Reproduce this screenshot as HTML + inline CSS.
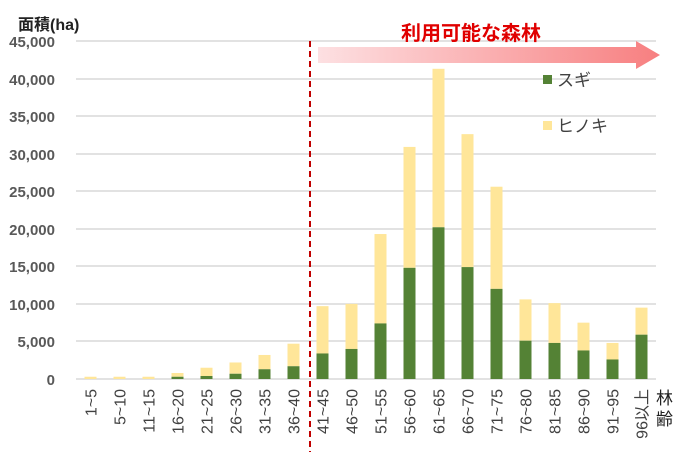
<!DOCTYPE html>
<html><head><meta charset="utf-8"><style>
body{margin:0;background:#fff;}
svg{display:block;font-family:"Liberation Sans","Noto Sans CJK JP",sans-serif;}
</style></head><body>
<svg width="690" height="452" viewBox="0 0 690 452" xmlns="http://www.w3.org/2000/svg">
<defs>
<linearGradient id="g" x1="0" x2="1" y1="0" y2="0">
<stop offset="0" stop-color="#fde0e2"/><stop offset="1" stop-color="#f77f80"/>
</linearGradient>
</defs>
<g stroke="#d9d9d9" stroke-width="1.5">
<line x1="76" x2="656" y1="41" y2="41"/><line x1="76" x2="656" y1="79" y2="79"/>
<line x1="76" x2="656" y1="116" y2="116"/><line x1="76" x2="656" y1="154" y2="154"/>
<line x1="76" x2="656" y1="191" y2="191"/><line x1="76" x2="656" y1="229" y2="229"/>
<line x1="76" x2="656" y1="266" y2="266"/><line x1="76" x2="656" y1="304" y2="304"/>
<line x1="76" x2="656" y1="341" y2="341"/><line x1="76" x2="656" y1="379" y2="379"/>
</g>
<g font-size="15" font-weight="bold" fill="#595959" text-anchor="end">
<text x="55" y="47">45,000</text><text x="55" y="85">40,000</text><text x="55" y="122">35,000</text>
<text x="55" y="160">30,000</text><text x="55" y="197">25,000</text><text x="55" y="235">20,000</text>
<text x="55" y="272">15,000</text><text x="55" y="310">10,000</text><text x="55" y="347">5,000</text>
<text x="55" y="385">0</text>
</g>
<text x="18" y="30" font-size="16" font-weight="bold" fill="#222">面積(ha)</text>
<g id="bars"></g>
<line x1="310" x2="310" y1="41" y2="452" stroke="#c00000" stroke-width="2" stroke-dasharray="6,4"/>
<polygon points="318,47 636,47 636,41 660,55 636,69 636,63 318,63" fill="url(#g)"/>
<text x="401" y="40" font-size="20" font-weight="bold" fill="#e00000">利用可能な森林</text>
<rect x="543" y="75" width="9" height="9" fill="#548235"/>
<text x="557" y="86" font-size="17" fill="#404040">スギ</text>
<rect x="543" y="121" width="9" height="9" fill="#ffe699"/>
<text x="557" y="132" font-size="17" fill="#404040">ヒノキ</text>
<g font-size="17" fill="#222"><text x="656" y="404">林</text><text x="656" y="425">齢</text></g>
<g id="lbl" font-size="16" fill="#404040"></g>
</svg>
<script>
var s=[0,0,0,300,400,700,1300,1700,3400,4000,7400,14800,20200,14900,12000,5100,4800,3800,2600,5900];
var t=[300,300,300,800,1500,2200,3200,4700,9700,10000,19300,30900,41300,32600,25600,10600,10100,7500,4800,9500];
var L=["1~5","5~10","11~15","16~20","21~25","26~30","31~35","36~40","41~45","46~50","51~55","56~60","61~65","66~70","71~75","76~80","81~85","86~90","91~95","96以上"];
var ns="http://www.w3.org/2000/svg",b=document.getElementById("bars"),l=document.getElementById("lbl");
function y(v){return 379-v*338/45000;}
for(var i=0;i<20;i++){var cx=90.5+i*29;
var r=document.createElementNS(ns,"rect");r.setAttribute("x",cx-6);r.setAttribute("width",12);r.setAttribute("y",y(t[i]));r.setAttribute("height",y(s[i])-y(t[i]));r.setAttribute("fill","#ffe699");b.appendChild(r);
if(s[i]>0){r=document.createElementNS(ns,"rect");r.setAttribute("x",cx-6);r.setAttribute("width",12);r.setAttribute("y",y(s[i]));r.setAttribute("height",379-y(s[i]));r.setAttribute("fill","#548235");b.appendChild(r);}
var tx=document.createElementNS(ns,"text");tx.setAttribute("text-anchor","end");tx.setAttribute("transform","translate("+(cx+6)+",389) rotate(-90)");tx.textContent=L[i];l.appendChild(tx);}
</script>
</body></html>
